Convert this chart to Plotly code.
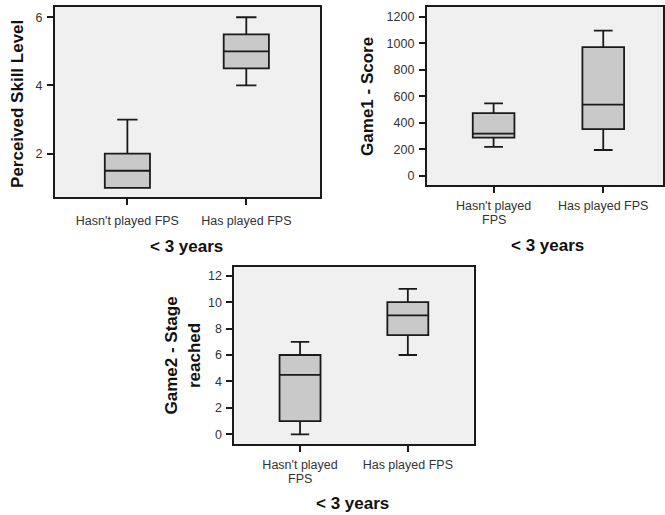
import plotly.graph_objects as go

W, H = 665, 515

categories = ["Hasn't played FPS", "Has played FPS"]
cat_labels_p1 = ["Hasn't played FPS", "Has played FPS"]
cat_labels_first = ["Hasn't played", "Has played FPS"]
cat_labels_second = ["FPS", ""]

# Panel 1: Perceived Skill Level
skill_low = [1, 4]
skill_q1 = [1, 4.5]
skill_med = [1.5, 5]
skill_q3 = [2, 5.5]
skill_high = [3, 6]

# Panel 2: Game1 - Score
score_low = [217, 194]
score_q1 = [287, 352]
score_med = [317, 536]
score_q3 = [473, 971]
score_high = [546, 1094]

# Panel 3: Game2 - Stage reached
stage_low = [0, 6]
stage_q1 = [1, 7.5]
stage_med = [4.5, 9]
stage_q3 = [6, 10]
stage_high = [7, 11]

FONT = "Liberation Sans, Arial, sans-serif"
BOX_FILL = "#c9c9c9"
LINE = "#1a1a1a"
BG = "#f0f0f0"

fig = go.Figure()

def add_box(low, q1, med, q3, high, xa, ya):
    fig.add_trace(go.Box(
        x=[0, 1], lowerfence=low, q1=q1, median=med, q3=q3, upperfence=high,
        xaxis=xa, yaxis=ya, fillcolor=BOX_FILL,
        line=dict(color=LINE, width=1.8), width=0.38, whiskerwidth=0.45,
        boxpoints=False, showlegend=False, hoverinfo="skip",
    ))

add_box(skill_low, skill_q1, skill_med, skill_q3, skill_high, "x", "y")
add_box(score_low, score_q1, score_med, score_q3, score_high, "x2", "y2")
add_box(stage_low, stage_q1, stage_med, stage_q3, stage_high, "x3", "y3")

def px(x):
    return x / W

def py(y):
    return 1 - y / H

TICK_SIZE = 12.5
tickfont = dict(family=FONT, size=TICK_SIZE, color="#333333")
common_axis = dict(showline=True, mirror=True, linecolor=LINE, linewidth=1.6,
                   ticks="outside", ticklen=6, tickcolor=LINE, tickwidth=1.5,
                   showgrid=False, zeroline=False, tickfont=tickfont, fixedrange=True)
ystyle = dict(ticklabelstandoff=2, **common_axis)

fig.update_layout(
    width=W, height=H, margin=dict(l=0, r=0, t=0, b=0),
    paper_bgcolor="white", plot_bgcolor=BG,
    font=dict(family=FONT),
    xaxis=dict(domain=[px(55), px(321)], anchor="y", range=[-0.61, 1.62],
               tickvals=[0, 1], ticktext=cat_labels_p1, ticklabelstandoff=5,
               **common_axis),
    yaxis=dict(domain=[py(197), py(7)], anchor="x", range=[0.73, 6.30],
               tickvals=[2, 4, 6], **ystyle),
    xaxis2=dict(domain=[px(428), 1.0], anchor="y2", range=[-0.61, 1.545],
                tickvals=[0, 1], ticktext=cat_labels_first, ticklabelstandoff=2,
                **common_axis),
    yaxis2=dict(domain=[py(185), py(7)], anchor="x2", range=[-70, 1273],
                tickvals=[0, 200, 400, 600, 800, 1000, 1200], **ystyle),
    xaxis3=dict(domain=[px(235), px(475)], anchor="y3", range=[-0.61, 1.61],
                tickvals=[0, 1], ticktext=cat_labels_first, ticklabelstandoff=2,
                **common_axis),
    yaxis3=dict(domain=[py(444), py(266.7)], anchor="x3", range=[-0.73, 12.68],
                tickvals=[0, 2, 4, 6, 8, 10, 12], **ystyle),
)

# second line of wrapped category labels (tight line spacing as in reference)
for xref, ypix in (("x2", 220), ("x3", 479)):
    for i, t in enumerate(cat_labels_second):
        if t:
            fig.add_annotation(text=t, x=i, y=py(ypix), xref=xref, yref="paper",
                               showarrow=False, font=tickfont,
                               xanchor="center", yanchor="middle", borderpad=0)

title_font = dict(family=FONT, size=17, color="#111111")

def ann(text, x, y, angle=0):
    fig.add_annotation(text=text, x=px(x), y=py(y), xref="paper", yref="paper",
                       showarrow=False, textangle=angle, font=title_font,
                       xanchor="center", yanchor="middle")

ann("<b>Perceived Skill Level</b>", 17, 104, -90)
ann("<b>&lt; 3 years</b>", 187, 246)
ann("<b>Game1 - Score</b>", 368, 96, -90)
ann("<b>&lt; 3 years</b>", 549, 245)
ann("<b>Game2 - Stage<br>reached</b>", 183, 355, -90)
ann("<b>&lt; 3 years</b>", 354, 503)

fig.write_html("out.html", config={"displayModeBar": False},
               post_script="document.body.style.margin='0';")
